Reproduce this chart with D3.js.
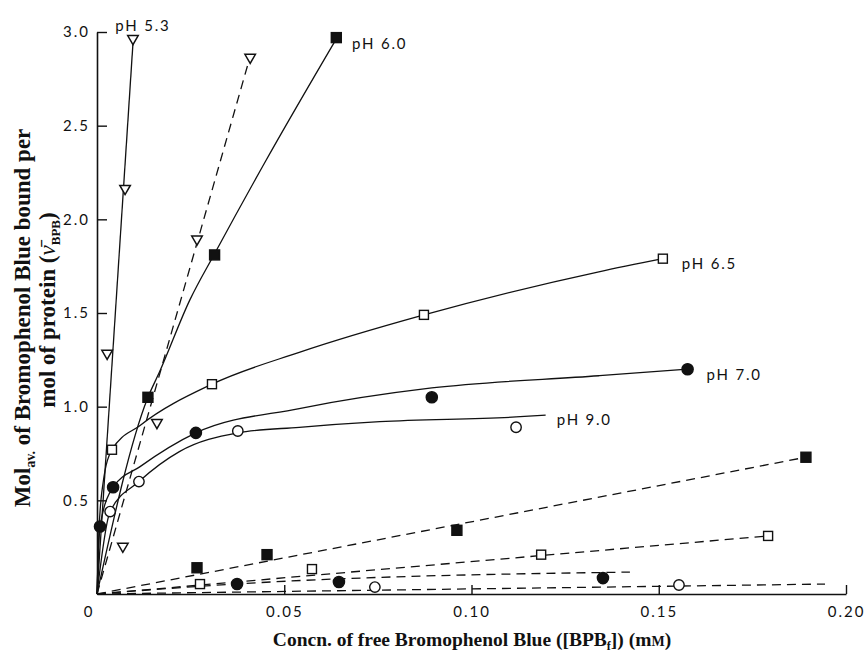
<!DOCTYPE html>
<html>
<head>
<meta charset="utf-8">
<script src="https://cdn.jsdelivr.net/npm/d3@7"></script>
<style>
  body { margin: 0; background: #fff; }
  .tick-label { font-family: Lato, "Open Sans", sans-serif; font-size: 15px; letter-spacing: 2px; fill: #111; }
  .ph-label { font-family: Lato, "Open Sans", sans-serif; font-size: 15px; letter-spacing: 1.8px; fill: #111; }
  .title { font-family: "Liberation Serif", "DejaVu Serif", serif; font-weight: bold; font-size: 19.5px; fill: #111; }
  .ytitle { font-size: 23px; }
</style>
</head>
<body>
<svg id="chart"></svg>
<script>
// ticks
const xTicks = [0.05, 0.10, 0.15, 0.20];
const xTickLabels = ['0.05', '0.10', '0.15', '0.20'];
const yTicks = [0.5, 1.0, 1.5, 2.0, 2.5, 3.0];
const yTickLabels = ['0.5', '1.0', '1.5', '2.0', '2.5', '3.0'];

// measured points [conc, nu]
const ph53Pts = [[0.0027, 1.29], [0.0075, 2.17], [0.0096, 2.97]];
const ph53Line = [[0, 0], [0.0097, 2.97]];
const tri2Pts = [[0.0069, 0.26], [0.0160, 0.92], [0.0267, 1.90], [0.0409, 2.87]];
const tri2Line = [[0, 0], [0.0409, 2.87]];

const ph60Pts = [[0.0136, 1.05], [0.0314, 1.81], [0.0639, 2.97]];
const ph60Line = [[0, 0], [0.0134, 1.04], [0.0168, 1.19], [0.0248, 1.57], [0.0315, 1.82], [0.0450, 2.31], [0.0641, 2.97]];
const ph60dPts = [[0.0267, 0.14], [0.0454, 0.21], [0.0961, 0.34], [0.1893, 0.73]];
const ph60dLine = [[0, 0], [0.1893, 0.73]];

const ph65Pts = [[0.0040, 0.77], [0.0307, 1.12], [0.0873, 1.49], [0.1511, 1.79]];
const ph65Line = [[0, 0], [0.0005, 0.33], [0.0016, 0.59], [0.0040, 0.77], [0.0115, 0.90], [0.0307, 1.12],
                  [0.0540, 1.29], [0.0873, 1.49], [0.1340, 1.72], [0.1511, 1.79]];
const ph65dPts = [[0.0275, 0.053], [0.0574, 0.133], [0.1186, 0.21], [0.1792, 0.31]];
const ph65dLine = [[0, 0], [0.1792, 0.31]];

const ph70Pts = [[0.0008, 0.36], [0.0043, 0.57], [0.0264, 0.86], [0.0894, 1.05], [0.1577, 1.20]];
const ph70Line = [[0, 0], [0.0008, 0.36], [0.0043, 0.57], [0.0115, 0.68], [0.0264, 0.86], [0.0540, 0.99],
                  [0.0894, 1.10], [0.1340, 1.165], [0.1577, 1.20]];
const ph70dPts = [[0.0374, 0.053], [0.0646, 0.064], [0.1351, 0.085]];
const ph70dLine = [[0, 0], [0.0374, 0.054], [0.1423, 0.117]];

const ph90Pts = [[0.0035, 0.44], [0.0112, 0.60], [0.0376, 0.87], [0.1119, 0.89]];
const ph90Line = [[0, 0], [0.0035, 0.44], [0.0112, 0.60], [0.0220, 0.76], [0.0376, 0.86], [0.0540, 0.89],
                  [0.0755, 0.92], [0.1119, 0.945], [0.1198, 0.955]];
const ph90dPts = [[0.0742, 0.037], [0.1554, 0.048]];
const ph90dLine = [[0, 0], [0.1944, 0.053]];

const phNames = ['pH 5.3', 'pH 6.0', 'pH 6.5', 'pH 7.0', 'pH 9.0'];

const W = 867, H = 652;
const svg = d3.select('#chart').attr('width', W).attr('height', H);

const x = d3.scaleLinear().domain([0, 0.2]).range([97, 846]);
const y = d3.scaleLinear().domain([0, 3]).range([594, 32]);

// axes
const xAxis = d3.axisBottom(x).tickValues(xTicks).tickSizeInner(-9).tickSizeOuter(0)
    .tickFormat((d, i) => xTickLabels[i]).tickPadding(20);
const yAxis = d3.axisLeft(y).tickValues(yTicks).tickSizeInner(-10).tickSizeOuter(0)
    .tickFormat((d, i) => yTickLabels[i]).tickPadding(16);

const gx = svg.append('g').attr('transform', `translate(0,${y(0)})`).call(xAxis);
const gy = svg.append('g').attr('transform', `translate(${x(0)},0)`).call(yAxis);
[gx, gy].forEach(g => {
    g.select('.domain').attr('stroke', '#111').attr('stroke-width', 1.6);
    g.selectAll('.tick line').attr('stroke', '#111').attr('stroke-width', 1.4);
    g.selectAll('.tick text').attr('class', 'tick-label').attr('font-family', null).attr('font-size', null);
});
gx.selectAll('.tick text').attr('dy', '0.35em').attr('y', 18);
gy.selectAll('.tick text').attr('x', -7);

svg.append('text').attr('class', 'tick-label')
    .attr('x', x(0) - 8).attr('y', y(0) + 18).attr('dy', '0.35em')
    .attr('text-anchor', 'middle').text('0');

// lines
const line = d3.line().x(d => x(d[0])).y(d => y(d[1])).curve(d3.curveMonotoneX);
const lines = [
    [ph53Line, false], [tri2Line, true], [ph60Line, false], [ph60dLine, true],
    [ph65Line, false], [ph65dLine, true], [ph70Line, false], [ph70dLine, true],
    [ph90Line, false], [ph90dLine, true]
];
const lineG = svg.append('g');
lines.forEach(([pts, dashed]) => {
    lineG.append('path')
        .datum(pts)
        .attr('d', line)
        .attr('fill', 'none')
        .attr('stroke', '#111')
        .attr('stroke-width', 1.3)
        .attr('stroke-dasharray', dashed ? '9 6' : null);
});

// markers
const tri = d3.symbol().type(d3.symbolTriangle).size(48)();
const markG = svg.append('g');
function markers(pts, kind) {
    const g = markG.append('g');
    pts.forEach(p => {
        const cx = x(p[0]), cy = y(p[1]);
        if (kind === 'tri') {
            g.append('path').attr('d', tri)
                .attr('transform', `translate(${cx},${cy + 1}) rotate(180)`)
                .attr('fill', '#fff').attr('stroke', '#111').attr('stroke-width', 1.5);
        } else if (kind === 'sqF' || kind === 'sqO') {
            const s = kind === 'sqF' ? 10 : 9;
            g.append('rect').attr('x', cx - s / 2).attr('y', cy - s / 2)
                .attr('width', s).attr('height', s)
                .attr('fill', kind === 'sqF' ? '#111' : '#fff')
                .attr('stroke', '#111').attr('stroke-width', 1.4);
        } else {
            g.append('circle').attr('cx', cx).attr('cy', cy)
                .attr('r', kind === 'cF' ? 5.6 : 5.2)
                .attr('fill', kind === 'cF' ? '#111' : '#fff')
                .attr('stroke', '#111').attr('stroke-width', 1.4);
        }
    });
}
markers(ph53Pts, 'tri');
markers(tri2Pts, 'tri');
markers(ph60Pts, 'sqF');
markers(ph60dPts, 'sqF');
markers(ph65Pts, 'sqO');
markers(ph65dPts, 'sqO');
markers(ph70Pts, 'cF');
markers(ph70dPts, 'cF');
markers(ph90Pts, 'cO');
markers(ph90dPts, 'cO');

// pH labels, anchored at the end of each solid series
const labelEnds = [ph53Line, ph60Line, ph65Line, ph70Line, ph90Line];
const labelOff = [[-18, -12], [15, 6], [19, 5], [19, 6], [11, 5]];
phNames.forEach((name, i) => {
    const end = labelEnds[i][labelEnds[i].length - 1];
    svg.append('text').attr('class', 'ph-label')
        .attr('x', x(end[0]) + labelOff[i][0])
        .attr('y', y(end[1]) + labelOff[i][1])
        .attr('dy', '0.35em')
        .text(name);
});

// axis titles
const xt = svg.append('text').attr('class', 'title')
    .attr('x', 472).attr('y', 646).attr('text-anchor', 'middle');
xt.append('tspan').text('Concn. of free Bromophenol Blue ([BPB');
xt.append('tspan').attr('font-size', 12).attr('dy', 4).text('f');
xt.append('tspan').attr('dy', -4).text(']) (m');
xt.append('tspan').attr('font-size', 14).text('M');
xt.append('tspan').text(')');

const yt1 = svg.append('text').attr('class', 'title ytitle')
    .attr('transform', 'translate(30,318) rotate(-90)').attr('text-anchor', 'middle');
yt1.append('tspan').text('Mol');
yt1.append('tspan').attr('font-size', 14).attr('dy', 5).text('av.');
yt1.append('tspan').attr('dy', -5).text(' of Bromophenol Blue bound per');

const yt2 = svg.append('text').attr('class', 'title ytitle')
    .attr('transform', 'translate(55,310) rotate(-90)').attr('text-anchor', 'middle');
yt2.append('tspan').text('mol of protein (');
yt2.append('tspan').attr('font-style', 'italic').attr('font-weight', 'normal').text('\u03BD\u0304');
yt2.append('tspan').attr('font-size', 13).attr('dy', 5).text('BPB');
yt2.append('tspan').attr('dy', -5).text(')');
</script>
</body>
</html>
